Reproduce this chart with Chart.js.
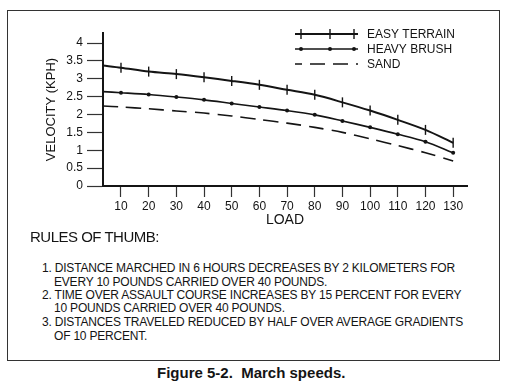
<!DOCTYPE html>
<html>
<head>
<meta charset="utf-8">
<script src="https://cdn.jsdelivr.net/npm/chart.js@4.4.0/dist/chart.umd.min.js"></script>
<style>
  body { margin: 0; background: #fff; }
  #wrap { position: relative; width: 508px; height: 387px; overflow: hidden; font-family: "Liberation Sans", Arial, sans-serif; color: #141414; }
  #chartBox { position: absolute; left: 0; top: 0; width: 508px; height: 230px; }
  #frame { position: absolute; left: 7px; top: 10px; width: 493px; height: 351px; border: 1.5px solid #333; box-sizing: border-box; }
  #rulesTitle { position: absolute; left: 30px; top: 228px; font-size: 15px; letter-spacing: -0.5px; white-space: nowrap; }
  .rule { position: absolute; left: 42px; font-size: 12px; letter-spacing: -0.2px; line-height: 13.6px; white-space: nowrap; }
  .rule span { display: block; }
  .rule .cont { padding-left: 12px; }
  #caption { position: absolute; left: 157px; top: 364px; font-size: 15px; font-weight: bold; white-space: pre; }
</style>
</head>
<body>
<div id="wrap">
  <div id="frame"></div>
  <div id="chartBox"><canvas id="marchChart"></canvas></div>
  <div id="rulesTitle">RULES OF THUMB:</div>
  <div class="rule" style="top:262px"><span>1. DISTANCE MARCHED IN 6 HOURS DECREASES BY 2 KILOMETERS FOR</span><span class="cont">EVERY 10 POUNDS CARRIED OVER 40 POUNDS.</span></div>
  <div class="rule" style="top:288.5px"><span>2. TIME OVER ASSAULT COURSE INCREASES BY 15 PERCENT FOR EVERY</span><span class="cont">10 POUNDS CARRIED OVER 40 POUNDS.</span></div>
  <div class="rule" style="top:316px"><span>3. DISTANCES TRAVELED REDUCED BY HALF OVER AVERAGE GRADIENTS</span><span class="cont">OF 10 PERCENT.</span></div>
  <div id="caption">Figure 5-2.  March speeds.</div>
</div>
<script>
var loads = [3.5, 10, 20, 30, 40, 50, 60, 70, 80, 90, 100, 110, 120, 130];
var easyTerrain = [3.37, 3.31, 3.20, 3.13, 3.04, 2.94, 2.83, 2.69, 2.55, 2.34, 2.11, 1.85, 1.57, 1.21];
var heavyBrush = [2.64, 2.61, 2.56, 2.49, 2.41, 2.31, 2.21, 2.11, 1.99, 1.82, 1.64, 1.45, 1.24, 0.93];
var sand = [2.24, 2.21, 2.16, 2.10, 2.04, 1.96, 1.86, 1.76, 1.64, 1.50, 1.32, 1.13, 0.93, 0.70];
var xTicks = [10, 20, 30, 40, 50, 60, 70, 80, 90, 100, 110, 120, 130];
var yTicks = [0, 0.5, 1, 1.5, 2, 2.5, 3, 3.5, 4];

var ink = '#141414';

function toPoints(values) {
     return values.map(function(v, i) { return { x: loads[i], y: v }; });
}

// no marker on the point sitting on the y axis
function markerRadius(r) {
     return function(ctx) { return ctx.dataIndex === 0 ? 0 : r; };
}

// legend drawn in the top right corner, like the original figure
var legendPlugin = {
     id: 'cornerLegend',
     afterDraw: function(chart) {
          var ctx = chart.ctx;
          var x0 = 295, x1 = 358, textX = 367;
          var rows = [34, 49, 64];
          ctx.save();
          chart.data.datasets.forEach(function(ds, i) {
               var y = rows[i];
               ctx.strokeStyle = ink;
               ctx.fillStyle = ink;
               ctx.lineWidth = ds.borderWidth;
               ctx.setLineDash(ds.borderDash || []);
               ctx.lineDashOffset = ds.borderDash ? 8 : 0;
               ctx.beginPath();
               ctx.moveTo(x0, y);
               ctx.lineTo(x1, y);
               ctx.stroke();
               ctx.setLineDash([]);
               [301, 330, 354].forEach(function(mx) {
                    if (ds.legendMark === 'cross') {
                         ctx.lineWidth = 1.4;
                         ctx.beginPath();
                         ctx.moveTo(mx, y - 5);
                         ctx.lineTo(mx, y + 5);
                         ctx.stroke();
                    } else if (ds.legendMark === 'dot') {
                         ctx.beginPath();
                         ctx.arc(mx, y, 2, 0, Math.PI * 2);
                         ctx.fill();
                    }
               });
               ctx.font = '12px "Liberation Sans", Arial, sans-serif';
               ctx.textBaseline = 'middle';
               ctx.fillText(ds.label, textX, y + 0.5);
          });
          ctx.restore();
     }
};

new Chart(document.getElementById('marchChart'), {
     type: 'line',
     data: {
          datasets: [
               {
                    label: 'EASY TERRAIN',
                    data: toPoints(easyTerrain),
                    borderColor: ink,
                    borderWidth: 2,
                    tension: 0.3,
                    pointStyle: 'line',
                    rotation: 90,
                    pointRadius: markerRadius(5),
                    pointBorderWidth: 1.4,
                    pointBorderColor: ink,
                    legendMark: 'cross'
               },
               {
                    label: 'HEAVY BRUSH',
                    data: toPoints(heavyBrush),
                    borderColor: ink,
                    borderWidth: 1.6,
                    tension: 0.3,
                    pointStyle: 'circle',
                    pointRadius: markerRadius(2),
                    pointBackgroundColor: ink,
                    pointBorderWidth: 0,
                    legendMark: 'dot'
               },
               {
                    label: 'SAND',
                    data: toPoints(sand),
                    borderColor: ink,
                    borderWidth: 1.6,
                    borderDash: [15, 8],
                    tension: 0.3,
                    pointRadius: 0,
                    legendMark: 'none'
               }
          ]
     },
     options: {
          responsive: true,
          maintainAspectRatio: false,
          animation: false,
          layout: { padding: { left: 0, top: 33, right: 41, bottom: 0 } },
          plugins: {
               legend: { display: false },
               tooltip: { enabled: false }
          },
          scales: {
               x: {
                    type: 'linear',
                    min: 3.5,
                    max: 135,
                    afterBuildTicks: function(scale) {
                         scale.ticks = xTicks.map(function(v) { return { value: v }; });
                    },
                    afterFit: function(scale) { scale.height = 44; },
                    grid: {
                         drawOnChartArea: false,
                         drawTicks: true,
                         tickLength: 11,
                         tickColor: '#333',
                         tickWidth: 1.2
                    },
                    border: { display: true, color: ink, width: 2 },
                    ticks: {
                         color: ink,
                         padding: 2,
                         maxRotation: 0,
                         autoSkip: false,
                         font: { family: '"Liberation Sans", Arial, sans-serif', size: 12 }
                    },
                    title: {
                         display: true,
                         text: 'LOAD',
                         color: ink,
                         padding: { top: 0, bottom: 1 },
                         font: { family: '"Liberation Sans", Arial, sans-serif', size: 14 }
                    }
               },
               y: {
                    min: 0,
                    max: 4.28,
                    afterBuildTicks: function(scale) {
                         scale.ticks = yTicks.map(function(v) { return { value: v }; });
                    },
                    afterFit: function(scale) { scale.width = 103; },
                    grid: {
                         drawOnChartArea: false,
                         drawTicks: true,
                         tickLength: 16,
                         tickColor: '#333',
                         tickWidth: 1.2
                    },
                    border: { display: true, color: ink, width: 2 },
                    ticks: {
                         color: ink,
                         padding: 4,
                         callback: function(value) { return String(value); },
                         font: { family: '"Liberation Sans", Arial, sans-serif', size: 12 }
                    },
                    title: {
                         display: true,
                         text: 'VELOCITY (KPH)',
                         color: ink,
                         padding: { top: 44, bottom: 0 },
                         font: { family: '"Liberation Sans", Arial, sans-serif', size: 13 }
                    }
               }
          }
     },
     plugins: [legendPlugin]
});
</script>
</body>
</html>
